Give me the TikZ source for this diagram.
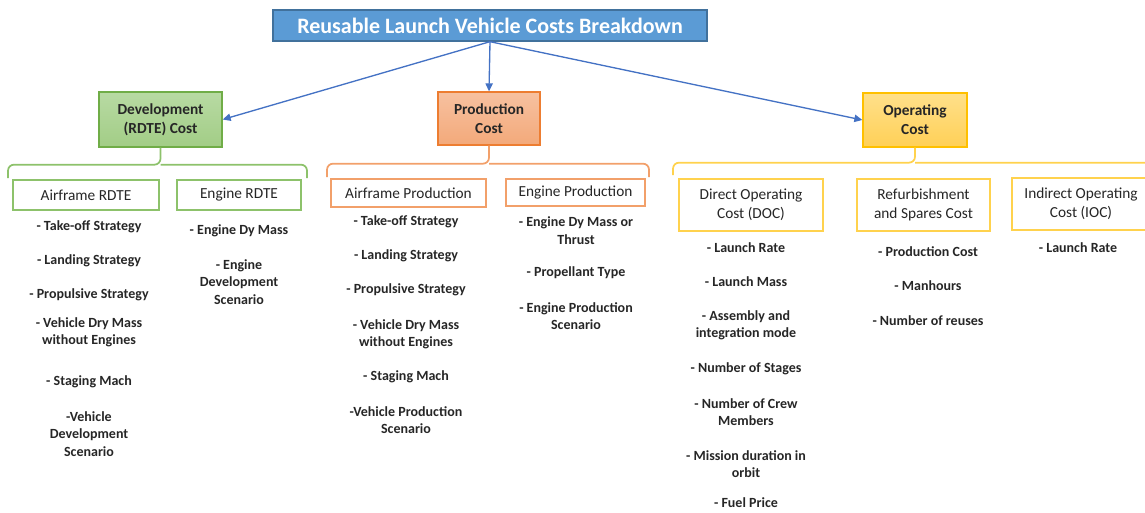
\documentclass[tikz,border=0pt]{standalone}
\usepackage{fontspec}
\setmainfont{Carlito}
\usetikzlibrary{arrows.meta}

\definecolor{titlefill}{HTML}{5B9BD5}
\definecolor{titleline}{HTML}{41719C}
\definecolor{linkblue}{HTML}{4472C4}
\definecolor{devtop}{HTML}{B8DAA3}
\definecolor{devbot}{HTML}{A2CD86}
\definecolor{devline}{HTML}{70AD47}
\definecolor{devlite}{HTML}{8DC26B}
\definecolor{prodtop}{HTML}{F7C1A0}
\definecolor{prodbot}{HTML}{F3A97A}
\definecolor{prodline}{HTML}{ED7D31}
\definecolor{prodlite}{HTML}{F2A06A}
\definecolor{opertop}{HTML}{FFE08A}
\definecolor{operbot}{HTML}{FFD057}
\definecolor{operline}{HTML}{FFC000}
\definecolor{operlite}{HTML}{FFD24D}
\definecolor{factortext}{HTML}{262626}

\tikzset{every picture/.style={line width=0.75pt}}
\tikzset{
  headbox/.style={draw, line width=1pt, align=center, inner sep=0.75pt,
    font=\bfseries\fontsize{11.5}{14.25}\selectfont, text=factortext},
  subbox/.style={draw, fill=white, line width=1.2pt, align=center, inner sep=0.75pt,
    font=\fontsize{11.5}{14.5}\selectfont, text=factortext},
  factor/.style={align=center, inner sep=0.75pt,
    font=\bfseries\fontsize{10.5}{13}\selectfont, text=factortext},
  bracket/.style={rounded corners=4.5pt, line width=1.3pt},
  link/.style={draw=linkblue, line width=1pt, -{Triangle[length=6pt,width=5.5pt]}},
}

\begin{document}
\begin{tikzpicture}[x=0.75pt,y=0.75pt,yscale=-1,xscale=1]
\useasboundingbox (0,0) rectangle (1145,512); %set diagram to 1145 x 512

%Title box
\draw (490,25.5) node [draw=titleline, fill=titlefill, line width=1pt, minimum width=325.5pt, minimum height=23.25pt, inner sep=0.75pt, text=white, font=\bfseries\fontsize{16.5}{19}\selectfont] (title) {Reusable Launch Vehicle Costs Breakdown};

%Cost boxes
\draw (160.5,119.5) node [headbox, draw=devline, top color=devtop, bottom color=devbot, minimum width=92.25pt, minimum height=41.25pt] (dev) {Development\\(RDTE) Cost};
\draw (489,118.5) node [headbox, draw=prodline, top color=prodtop, bottom color=prodbot, minimum width=76.5pt, minimum height=39.75pt] (prod) {Production\\Cost};
\draw (915,120) node [headbox, draw=operline, top color=opertop, bottom color=operbot, minimum width=78pt, minimum height=40.5pt] (oper) {Operating\\Cost};

%Arrows from title
\draw [link] (title.south) -- (dev.east);
\draw [link] (title.south) -- (prod.north);
\draw [link] (title.south) -- (oper.west);

%Brackets
\coordinate (devL) at (8,178);
\coordinate (devR) at (307,178);
\path (dev.south) ++(0,17) coordinate (devbar);
\draw [bracket, draw=devlite] (devL) |- (devbar) -- (dev.south);
\draw [bracket, draw=devlite] (devR) |- (devbar);
\coordinate (prodL) at (327,177);
\coordinate (prodR) at (649,177);
\path (prod.south) ++(0,18) coordinate (prodbar);
\draw [bracket, draw=prodlite] (prodL) |- (prodbar) -- (prod.south);
\draw [bracket, draw=prodlite] (prodR) |- (prodbar);
\coordinate (operL) at (673,175);
\coordinate (operR) at (1160,175);
\path (oper.south) ++(0,15) coordinate (operbar);
\draw [bracket, draw=operlite] (operL) |- (operbar) -- (oper.south);
\draw [bracket, draw=operlite] (operR) |- (operbar);

%Sub boxes
\draw (86,195) node [subbox, draw=devlite, minimum width=109.5pt, minimum height=22.5pt] (airdev) {Airframe RDTE};
\draw (239,195) node [subbox, draw=devlite, minimum width=93pt, minimum height=22.5pt] (engdev) {Engine RDTE};
\draw (408.5,193) node [subbox, draw=prodlite, minimum width=116.25pt, minimum height=21pt] (airprod) {Airframe Production};
\draw (575.5,192.5) node [subbox, draw=prodlite, minimum width=104.25pt, minimum height=20.25pt] (engprod) {Engine Production};
\draw (751,205) node [subbox, draw=operlite, minimum width=108pt, minimum height=39pt] (doc) {Direct Operating\\Cost (DOC)};
\draw (923.5,205) node [subbox, draw=operlite, minimum width=99.75pt, minimum height=39pt] (refurb) {Refurbishment\\and Spares Cost};
\draw (1081,204) node [subbox, draw=operlite, minimum width=103.5pt, minimum height=39pt] (ioc) {Indirect Operating\\Cost (IOC)};

% Text Node
\draw (89,227) node [factor] (ad1) {- Take-off Strategy};
\draw (89,261) node [factor] (ad2) {- Landing Strategy};
\draw (89,295) node [factor] (ad3) {- Propulsive Strategy};
\draw (89,332) node [factor] (ad4) {- Vehicle Dry Mass\\without Engines};
\draw (89,382) node [factor] (ad5) {- Staging Mach};
\draw (89,434) node [factor] (ad6) {-Vehicle\\Development\\Scenario};
% Text Node
\draw (239,231) node [factor] (ed1) {- Engine Dy Mass};
\draw (239,282) node [factor] (ed2) {- Engine\\Development\\Scenario};
% Text Node
\draw (406,222) node [factor] (ap1) {- Take-off Strategy};
\draw (406,256) node [factor] (ap2) {- Landing Strategy};
\draw (406,290) node [factor] (ap3) {- Propulsive Strategy};
\draw (406,334) node [factor] (ap4) {- Vehicle Dry Mass\\without Engines};
\draw (406,377) node [factor] (ap5) {- Staging Mach};
\draw (406,420) node [factor] (ap6) {-Vehicle Production\\Scenario};
% Text Node
\draw (576,230.5) node [factor] (ep1) {- Engine Dy Mass or\\Thrust};
\draw (576,273) node [factor] (ep2) {- Propellant Type};
\draw (576,316) node [factor] (ep3) {- Engine Production\\Scenario};
% Text Node
\draw (746,248) node [factor] (dc1) {- Launch Rate};
\draw (746,282) node [factor] (dc2) {- Launch Mass};
\draw (746,325) node [factor] (dc3) {- Assembly and\\integration mode};
\draw (746,369) node [factor] (dc4) {- Number of Stages};
\draw (746,412) node [factor] (dc5) {- Number of Crew\\Members};
\draw (746,464) node [factor] (dc6) {- Mission duration in\\orbit};
\draw (746,503) node [factor] (dc7) {- Fuel Price};
% Text Node
\draw (928,252) node [factor] (rf1) {- Production Cost};
\draw (928,286) node [factor] (rf2) {- Manhours};
\draw (928,321) node [factor] (rf3) {- Number of reuses};
% Text Node
\draw (1078,248) node [factor] (ic1) {- Launch Rate};

\end{tikzpicture}
\end{document}
